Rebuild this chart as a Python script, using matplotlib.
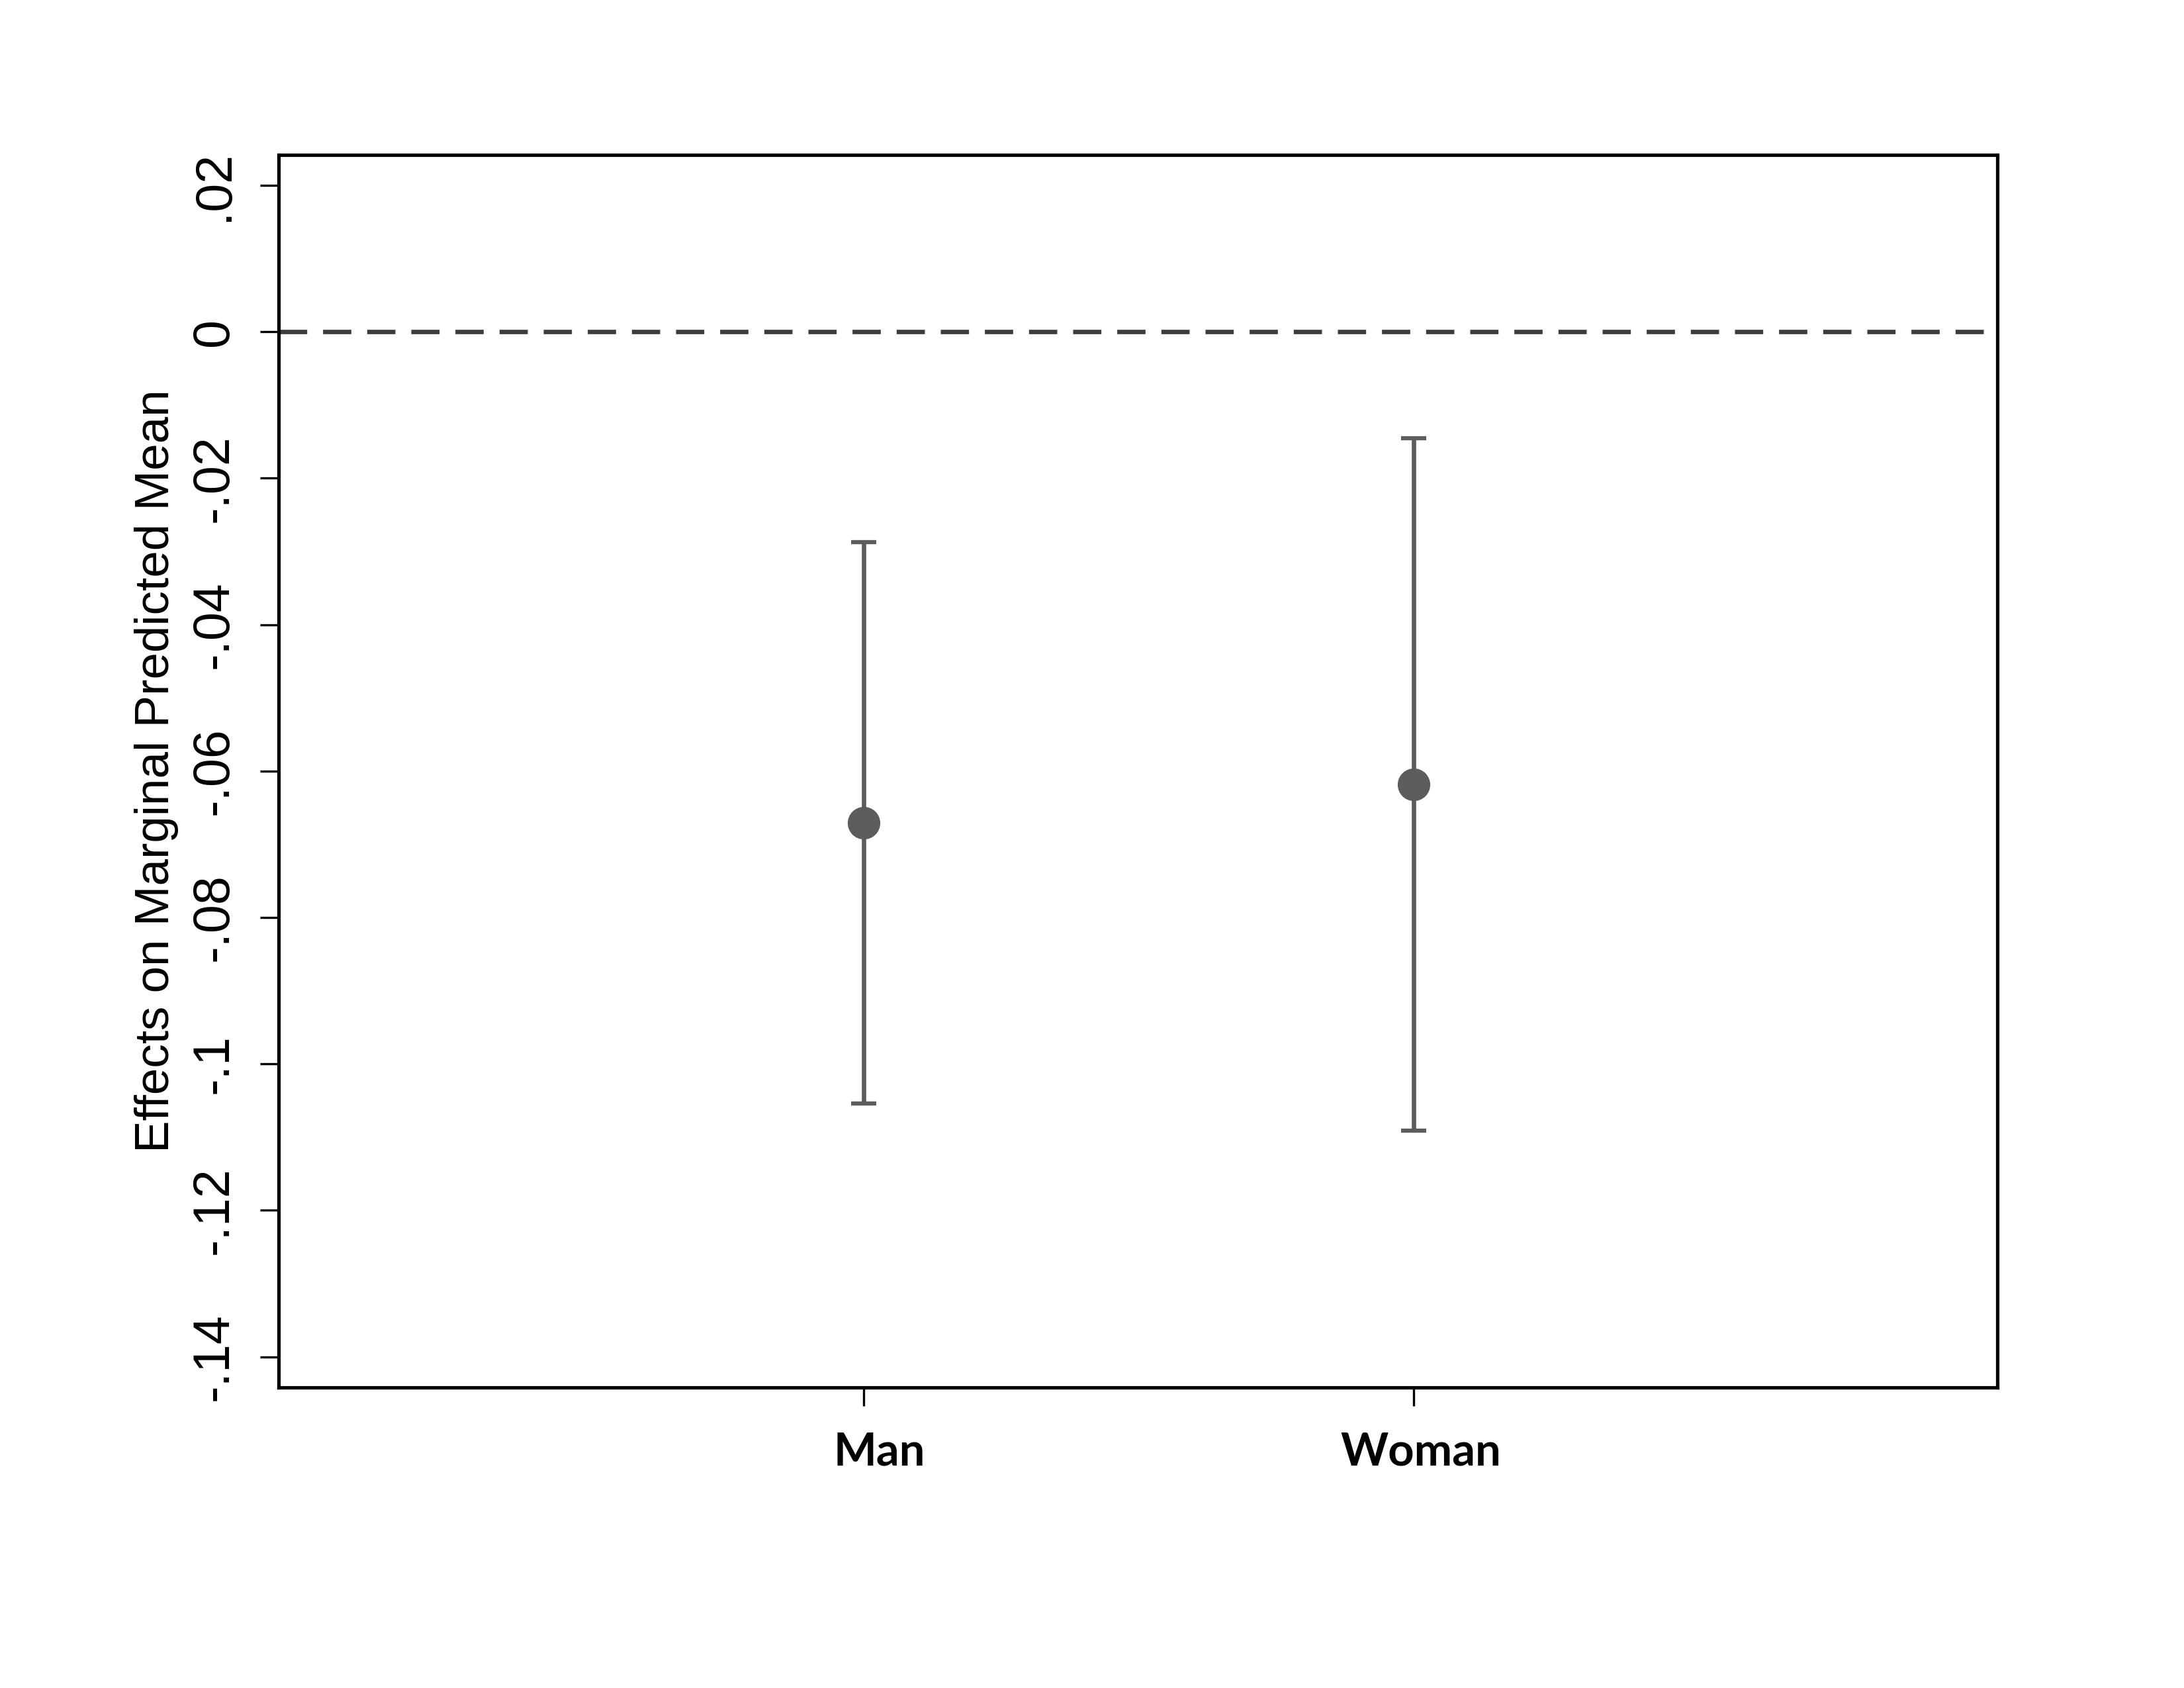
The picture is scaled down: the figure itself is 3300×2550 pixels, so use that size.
import matplotlib
matplotlib.use("Agg")
import matplotlib.pyplot as plt
import matplotlib.transforms as mtransforms
import numpy as np

plt.rcParams['font.family'] = ['Liberation Sans', 'DejaVu Sans']

# Data
groups = ["Man", "Woman"]
estimates = [-0.0671, -0.0618]
ci_low = [-0.1054, -0.1091]
ci_high = [-0.0287, -0.0145]
yticks = [0.02, 0, -0.02, -0.04, -0.06, -0.08, -0.1, -0.12, -0.14]
ytick_labels = [".02", "0", "-.02", "-.04", "-.06", "-.08", "-.1", "-.12", "-.14"]

x = np.arange(1, len(groups) + 1)
est = np.array(estimates)
yerr = np.vstack([est - np.array(ci_low), np.array(ci_high) - est])

fig = plt.figure(figsize=(11, 8.5), dpi=300)
ax = fig.add_axes([0.1276, 0.178, 0.9145 - 0.1276, 0.9084 - 0.178])

ax.axhline(0, color="#3c3c3c", lw=1.6, dashes=(6.4, 3.6), zorder=1)
ax.errorbar(x, est, yerr=yerr, fmt="o", color="#5c5c5c", ms=10.8,
            elinewidth=1.6, capsize=4.6, capthick=1.5, zorder=3)

ax.set_xlim(-0.064, 3.061)
ax.set_ylim(-0.1442, 0.0242)

ax.set_yticks(yticks)
ax.set_yticklabels(ytick_labels, rotation=90, va="center", fontsize=18.5)
ax.set_xticks(x)
ax.set_xticklabels([])

# category labels, slightly right of the ticks as in the original
trans = mtransforms.blended_transform_factory(ax.transData, ax.transAxes)
for xi, name, dx in zip(x, groups, [0.028, 0.013]):
    ax.text(xi + dx, -0.0628, name, transform=trans, ha="center", va="baseline",
            fontsize=16.5, fontweight="bold", family=["Lato", "DejaVu Sans"])

ax.tick_params(axis="both", length=6.7, width=0.8, color="black")
ax.tick_params(axis="y", pad=8)
for s in ax.spines.values():
    s.set_linewidth(1.25)

ax.set_ylabel("Effects on Marginal Predicted Mean", fontsize=17.5, labelpad=4)

plt.savefig("out.png", dpi=300)
